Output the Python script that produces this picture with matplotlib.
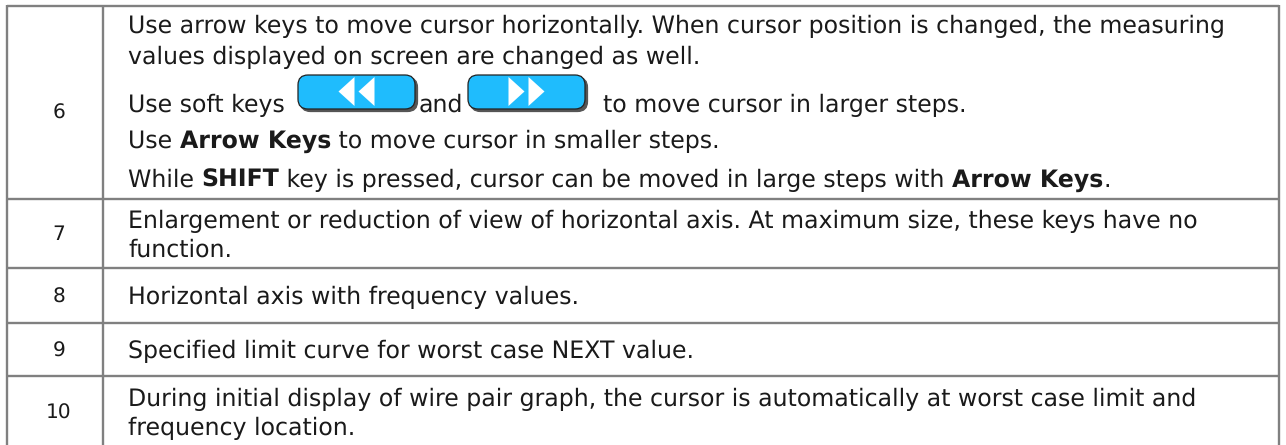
import matplotlib
matplotlib.use("Agg")
import matplotlib.pyplot as plt
from matplotlib.patches import FancyBboxPatch, Polygon

# hinting snaps the glyph widths at this size, text comes out squeezed
plt.rcParams["text.hinting"] = "no_hinting"

W, H = 1286, 445

# table contents
row_labels = ["6", "7", "8", "9", "10"]
row_tops = [6, 199, 268, 322.5, 376]
col_lines = [7, 103, 1279]

# each line is a list of (text, bold) pieces
lines = [
    [("Use arrow keys to move cursor horizontally. When cursor position is changed, the measuring", False)],
    [("values displayed on screen are changed as well.", False)],
    [("Use soft keys", False)],
    [("Use ", False), ("Arrow Keys", True), (" to move cursor in smaller steps.", False)],
    [("While ", False), ("SHIFT", True), (" key is pressed, cursor can be moved in large steps with ", False),
     ("Arrow Keys", True), (".", False)],
    [("Enlargement or reduction of view of horizontal axis. At maximum size, these keys have no", False)],
    [("function.", False)],
    [("Horizontal axis with frequency values.", False)],
    [("Specified limit curve for worst case NEXT value.", False)],
    [("During initial display of wire pair graph, the cursor is automatically at worst case limit and", False)],
    [("frequency location.", False)],
]
baselines = [33, 64, 112, 148, 187, 228, 257, 304, 358, 406, 435]

FONT = "DejaVu Sans"
SIZE = 17.05
GREY = "#808080"
BLUE = "#1fbcfd"

fig = plt.figure(figsize=(W / 100, H / 100), dpi=100)
ax = fig.add_axes([0, 0, 1, 1])
ax.set_xlim(0, W)
ax.set_ylim(H, 0)
ax.axis("off")

# grid lines
for y in row_tops:
    ax.plot([col_lines[0], col_lines[-1]], [y, y], color=GREY, lw=1.7, solid_capstyle="butt")
for x in col_lines:
    ax.plot([x, x], [5, H], color=GREY, lw=1.7, solid_capstyle="butt")

# row numbers
label_y = [113, 234, 297, 351, 413]
for lab, y in zip(row_labels, label_y):
    ax.text(59, y, lab, ha="center", va="center", family=FONT, fontsize=14.5, color="#1a1a1a")

fig.canvas.draw()
rend = fig.canvas.get_renderer()

for parts, y in zip(lines, baselines):
    x = 128
    for txt, bold in parts:
        t = ax.text(x, y, txt, ha="left", va="baseline", family=FONT, fontsize=SIZE,
                    weight="bold" if bold else "normal", color="#1a1a1a")
        x += t.get_window_extent(rend).width

ax.text(419, 112, "and", ha="left", va="baseline", family=FONT, fontsize=SIZE, color="#1a1a1a", zorder=6)
ax.text(603, 112, "to move cursor in larger steps.", ha="left", va="baseline", family=FONT,
        fontsize=SIZE, color="#1a1a1a")


def button(x0, x1, y0, y1, left):
    for dx, col, z in [(2.5, "#555555", 3), (0, BLUE, 4)]:
        p = FancyBboxPatch((x0 + dx, y0 + dx), x1 - x0, y1 - y0, boxstyle="round,pad=0,rounding_size=10",
                           fc=col, ec="#222222" if dx == 0 else col, lw=0.9, zorder=z)
        ax.add_patch(p)
    mid = (x0 + x1) / 2
    for off in (-18, 2):
        if left:
            pts = [(mid + off, 91.5), (mid + off + 16, 77), (mid + off + 16, 106)]
        else:
            pts = [(mid + off + 16, 91.5), (mid + off, 77), (mid + off, 106)]
        ax.add_patch(Polygon(pts, fc="white", ec="none", zorder=5))


button(298, 415, 75, 109, True)
button(468, 585, 75, 109, False)

fig.savefig("out.png", dpi=100)
